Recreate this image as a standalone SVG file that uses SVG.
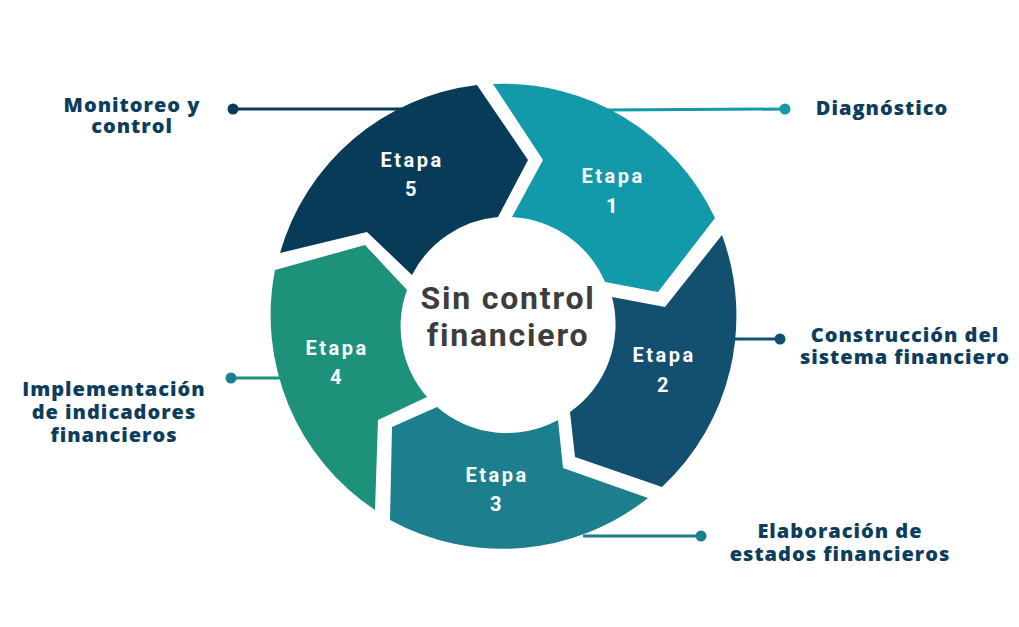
<svg xmlns="http://www.w3.org/2000/svg" width="1019" height="627" viewBox="0 0 1019 627">
<style>
.stage{font-family:Roboto,"Liberation Sans",sans-serif;font-weight:700;font-size:20px;fill:#ffffff;text-anchor:middle;letter-spacing:2.5px}
.lbl{font-family:"Open Sans","Noto Sans",sans-serif;font-weight:800;font-size:20px;fill:#0d3d5c;text-anchor:middle;letter-spacing:1px}
.center{font-family:Roboto,"Liberation Sans",sans-serif;font-weight:700;font-size:32px;fill:#3d3d3d;text-anchor:middle;letter-spacing:1.8px}
.conn{stroke-width:3;fill:none}
</style>
<rect width="1019" height="627" fill="#ffffff"/>
<g id="connectors">
  <line class="conn" x1="233" y1="109" x2="402" y2="109" stroke="#073b58"/>
  <circle cx="233" cy="109" r="5.5" fill="#073b58"/>
  <line class="conn" x1="608" y1="110" x2="785" y2="109" stroke="#1299aa"/>
  <circle cx="785" cy="109" r="5.5" fill="#1299aa"/>
  <line class="conn" x1="734" y1="339" x2="780" y2="339" stroke="#134f6e"/>
  <circle cx="780" cy="339" r="5.5" fill="#134f6e"/>
  <line class="conn" x1="583" y1="536" x2="701" y2="536" stroke="#1d7f8e"/>
  <circle cx="701" cy="536" r="5.5" fill="#1d7f8e"/>
  <line class="conn" x1="231" y1="378" x2="280" y2="378" stroke="#1e917b"/>
  <circle cx="231" cy="378" r="5.5" fill="#1d7f8e"/>
</g>
<g id="etapa5">
  <path d="M 280,253 A 234 234 0 0 1 477,85 L 528,160 L 498,217 A 107 107 0 0 0 412,275 L 367,232 Z" fill="#073b58"/>
  <text class="stage" x="412" y="167">Etapa</text>
  <text class="stage" x="412" y="196">5</text>
</g>
<g id="etapa1">
  <path d="M 493,84 A 234 234 0 0 1 715,218 L 658,292 L 605,282 A 107 107 0 0 0 512,217 L 543,160 Z" fill="#1299aa"/>
  <text class="stage" x="613" y="183">Etapa</text>
  <text class="stage" x="613" y="213">1</text>
</g>
<g id="etapa2">
  <path d="M 722,235 A 234 234 0 0 1 662,487 L 575,457 L 570,412 A 107 107 0 0 0 612,297 L 665,307 Z" fill="#134f6e"/>
  <text class="stage" x="664" y="362">Etapa</text>
  <text class="stage" x="664" y="392">2</text>
</g>
<g id="etapa3">
  <path d="M 648,498 A 234 234 0 0 1 390,520 L 392,427 L 437,407 A 107 107 0 0 0 558,420 L 563,468 Z" fill="#1d7f8e"/>
  <text class="stage" x="497" y="482">Etapa</text>
  <text class="stage" x="497" y="511">3</text>
</g>
<g id="etapa4">
  <path d="M 375,510 A 234 234 0 0 1 275,270 L 365,245 L 407,290 A 107 107 0 0 0 427,397 L 378,420 Z" fill="#1e917b"/>
  <text class="stage" x="337" y="355">Etapa</text>
  <text class="stage" x="337" y="384">4</text>
</g>
<g id="centro">
  <text class="center" x="508" y="309">Sin control</text>
  <text class="center" x="508" y="346">financiero</text>
</g>
<g id="label-monitoreo">
  <text class="lbl" x="132" y="112">Monitoreo y</text>
  <text class="lbl" x="132" y="133">control</text>
</g>
<g id="label-diagnostico">
  <text class="lbl" x="882" y="115">Diagnóstico</text>
</g>
<g id="label-construccion">
  <text class="lbl" x="905" y="342">Construcción del</text>
  <text class="lbl" x="905" y="364">sistema financiero</text>
</g>
<g id="label-elaboracion">
  <text class="lbl" x="840" y="538">Elaboración de</text>
  <text class="lbl" x="840" y="561">estados financieros</text>
</g>
<g id="label-implementacion">
  <text class="lbl" x="114" y="396">Implementación</text>
  <text class="lbl" x="114" y="419">de indicadores</text>
  <text class="lbl" x="114" y="442">financieros</text>
</g>
</svg>
